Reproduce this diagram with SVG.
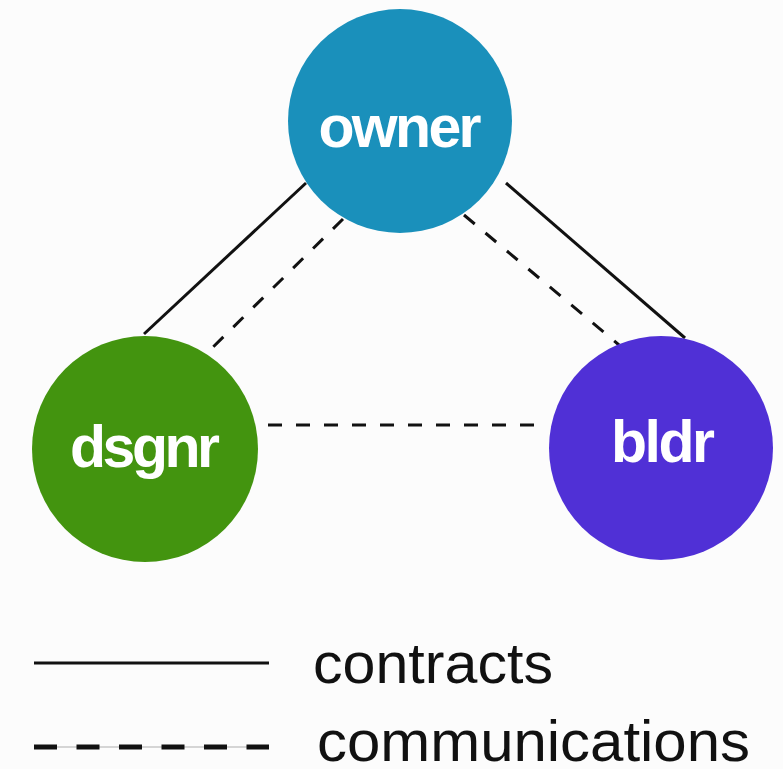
<svg xmlns="http://www.w3.org/2000/svg" width="783" height="769" viewBox="0 0 783 769">
  <style>
    .bg { fill: #fcfcfc; }
    .contract { stroke: #111; stroke-width: 3; fill: none; }
    .comm { stroke: #111; stroke-width: 3; fill: none; stroke-dasharray: 14 14; }
    .label { font-family: "Liberation Sans", Arial, sans-serif; font-weight: bold; fill: #ffffff; text-anchor: middle; }
    .legend { font-family: "Liberation Sans", Arial, sans-serif; fill: #111; }
  </style>
  <rect class="bg" x="0" y="0" width="783" height="769"/>

  <!-- relationships between parties -->
  <g id="connectors">
    <line class="contract" x1="144" y1="334" x2="306" y2="183"/>
    <line class="contract" x1="506" y1="183" x2="685" y2="338"/>
    <line class="comm" x1="343" y1="219" x2="206" y2="354"/>
    <line class="comm" x1="464" y1="215" x2="619" y2="345"/>
    <line class="comm" x1="268" y1="425" x2="548" y2="425"/>
  </g>

  <g id="owner">
    <circle cx="400" cy="121" r="112" fill="#1a90bb"/>
    <text class="label" x="400" y="147" font-size="59" textLength="163" lengthAdjust="spacing">owner</text>
  </g>

  <g id="dsgnr">
    <circle cx="145" cy="449" r="113" fill="#43940f"/>
    <text class="label" x="145" y="467" font-size="59" textLength="150" lengthAdjust="spacing">dsgnr</text>
  </g>

  <g id="bldr">
    <circle cx="661" cy="448" r="112" fill="#5030d6"/>
    <text class="label" x="663" y="462" font-size="59" textLength="104" lengthAdjust="spacing">bldr</text>
  </g>

  <!-- key -->
  <g id="legend">
    <line class="contract" x1="34" y1="663" x2="269" y2="663" stroke-width="4"/>
    <line x1="34" y1="747" x2="269" y2="747" stroke="#c8c8c8" stroke-width="1.5"/>
    <line x1="34" y1="747" x2="269" y2="747" stroke="#111" stroke-width="5" stroke-dasharray="23 19.5"/>
    <text class="legend" x="313" y="683" font-size="58" textLength="240" lengthAdjust="spacingAndGlyphs">contracts</text>
    <text class="legend" x="317" y="761" font-size="57" textLength="433" lengthAdjust="spacingAndGlyphs">communications</text>
  </g>
</svg>
